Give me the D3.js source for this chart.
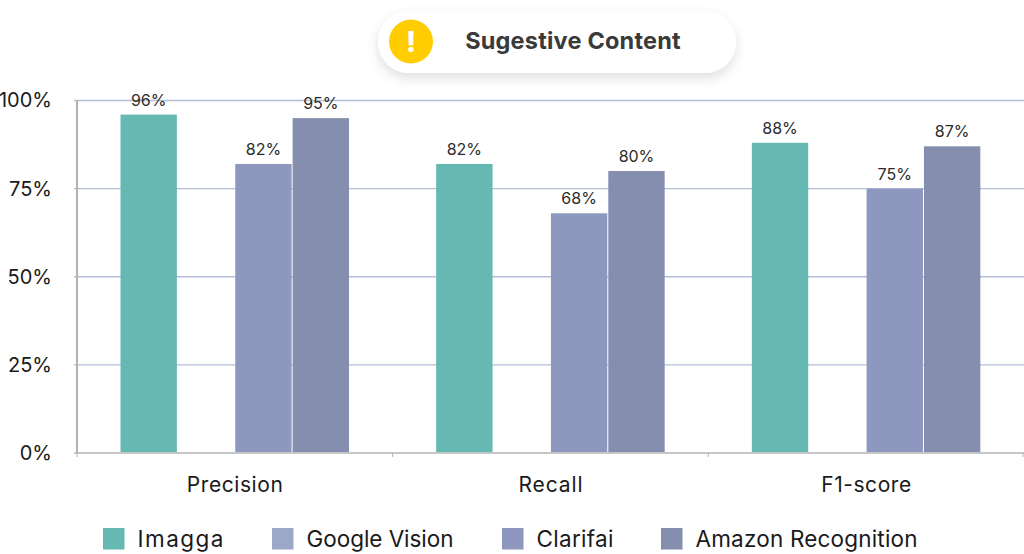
<!DOCTYPE html>
<html><head><meta charset="utf-8">
<script src="https://cdn.jsdelivr.net/npm/d3@7/dist/d3.min.js"></script>
<style>
html,body{margin:0;padding:0;background:#fff;overflow:hidden}
svg{display:block}
text{font-family:Inter,"Open Sans",sans-serif}
</style></head><body>
<svg id="c" width="1024" height="554"></svg>
<script>
const categories = ["Precision","Recall","F1-score"];
const seriesNames = ["Imagga","Google Vision","Clarifai","Amazon Recognition"];
const imagga = [96,82,88];
const googleVision = [null,null,null];
const clarifai = [82,68,75];
const amazon = [95,80,87];
const yTicks = [0,25,50,75,100];
const seriesValues = [imagga,googleVision,clarifai,amazon];
const barColors = ["#65b9b2","#9da7c8","#8e98be","#858eae"];
const titleText = "Sugestive Content";

const svg = d3.select("#c");
const x = d3.scaleBand().domain(categories).range([77,1024]);
const x1 = d3.scaleBand().domain(seriesNames).range([43,272.5]);
const y = d3.scaleLinear().domain([0,100]).range([453,100.5]);

// gridlines
svg.append("g").selectAll("line").data(yTicks.filter(d=>d>0)).join("line")
  .attr("x1",74).attr("x2",1024).attr("y1",d=>y(d)).attr("y2",d=>y(d))
  .attr("stroke","#b5bdd9").attr("stroke-width",1.4);

// bars
seriesNames.forEach((s,i)=>{
  const rows = categories.map((c,j)=>({c,v:seriesValues[i][j]})).filter(d=>d.v!==null);
  svg.append("g").selectAll("rect").data(rows).join("rect")
    .attr("x",d=>x(d.c)+x1(s)+0.5)
    .attr("width",x1.bandwidth()-1)
    .attr("y",d=>y(d.v))
    .attr("height",d=>y(0)-y(d.v)-1)
    .attr("fill",barColors[i]);
  svg.append("g").selectAll("text").data(rows).join("text")
    .attr("x",d=>x(d.c)+x1(s)+x1.bandwidth()/2)
    .attr("y",d=>y(d.v)-9)
    .attr("text-anchor","middle")
    .attr("font-size",16).attr("fill","#2b2b2b")
    .text(d=>d.v+"%");
});

// axes
const xLabelWidths = [96,64,90];
const gx = svg.append("g").attr("transform","translate(0,453)")
  .call(d3.axisBottom(x).tickSize(0).tickPadding(24));
gx.select(".domain").attr("stroke","#b3b3b3").attr("stroke-width",1.6).attr("d","M74,0H1024");
gx.selectAll("text").attr("font-size",21).attr("fill","#1a1a1a")
  .style("font-family","Inter,sans-serif")
  .attr("textLength",(d,i)=>xLabelWidths[i]).attr("lengthAdjust","spacing");
svg.append("g").selectAll("line").data([77,...categories.map(c=>x(c)+x.bandwidth())]).join("line")
  .attr("x1",d=>Math.min(d,1023)).attr("x2",d=>Math.min(d,1023)).attr("y1",453).attr("y2",457)
  .attr("stroke","#b3b3b3").attr("stroke-width",1);

const gy = svg.append("g").attr("transform","translate(77,0)")
  .call(d3.axisLeft(y).tickValues(yTicks).tickFormat(d=>d+"%").tickSize(0).tickPadding(25));
gy.select(".domain").attr("stroke","#b3b3b3").attr("stroke-width",2).attr("d","M0,100V453");
gy.selectAll("text").attr("font-size",20).attr("fill","#1a1a1a")
  .style("font-family","Inter,sans-serif");

// legend
const legendSwatch = [103,272,502,661];
const legendWidths = [86,147,77,222];
const lg = svg.append("g").selectAll("g").data(seriesNames).join("g")
  .attr("transform",(d,i)=>`translate(${legendSwatch[i]},528)`);
lg.append("rect").attr("width",21.5).attr("height",21.5).attr("fill",(d,i)=>barColors[i]);
lg.append("text").attr("x",34.5).attr("y",18.5).attr("font-size",22.5).attr("fill","#1a1a1a")
  .attr("textLength",(d,i)=>legendWidths[i]).attr("lengthAdjust","spacing").text(d=>d);

// title pill
const defs = svg.append("defs");
const f = defs.append("filter").attr("id","sh").attr("x","-10%").attr("y","-40%").attr("width","120%").attr("height","190%");
f.append("feDropShadow").attr("dx",0).attr("dy",5).attr("stdDeviation",6).attr("flood-color","#000").attr("flood-opacity",0.13);
svg.append("rect").attr("x",378).attr("y",11).attr("width",358).attr("height",62).attr("rx",31)
  .attr("fill","#fff").attr("filter","url(#sh)");
svg.append("circle").attr("cx",411).attr("cy",41.5).attr("r",22).attr("fill","#ffcd00");
svg.append("text").attr("x",411).attr("y",52).attr("text-anchor","middle")
  .attr("font-size",28).attr("font-weight",800).attr("fill","#fff").text("!");
svg.append("text").attr("x",573).attr("y",49).attr("text-anchor","middle")
  .attr("font-size",23.5).attr("font-weight",700).attr("letter-spacing",0.2).attr("fill","#3a3a3a").text(titleText);
</script>
</body></html>
